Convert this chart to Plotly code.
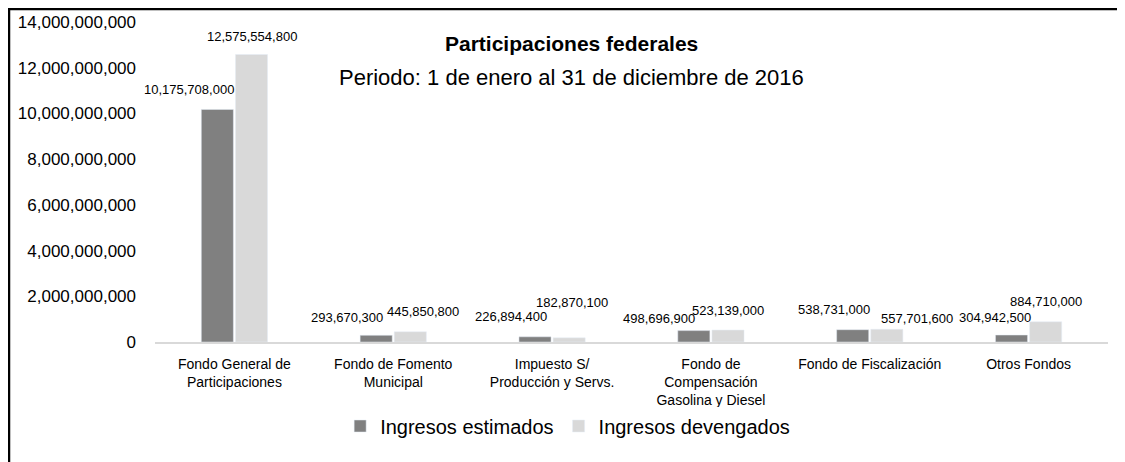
import plotly.graph_objects as go

categorias = ["Fondo General de<br>Participaciones", "Fondo de Fomento<br>Municipal",
              "Impuesto S/<br>Producción y Servs.", "Fondo de<br>Compensación<br>Gasolina y Diesel",
              "Fondo de Fiscalización", "Otros Fondos"]
estimados = [10175708000, 293670300, 226894400, 498696900, 538731000, 304942500]
devengados = [12575554800, 445850800, 182870100, 523139000, 557701600, 884710000]
y_ticks = [0, 2000000000, 4000000000, 6000000000, 8000000000, 10000000000, 12000000000, 14000000000]

# desplazamiento (px) de las etiquetas, como en el original
shift_est = [(-45, 20), (-46, 18), (-41, 20), (-52, 12), (-36, 20), (-34, 18)]
shift_dev = [(18, 18), (30, 20), (20, 35), (17, 20), (47, 11), (17, 20)]

FONT = "Liberation Sans, Arial"
OSCURO = "#808080"
CLARO = "#d9d9d9"

fig = go.Figure()
fig.add_trace(go.Bar(name="Ingresos estimados", x=categorias, y=estimados, marker_color=OSCURO))
fig.add_trace(go.Bar(name="Ingresos devengados", x=categorias, y=devengados, marker_color=CLARO))

for i, cat in enumerate(categorias):
    fig.add_annotation(x=cat, y=estimados[i], text=f"{estimados[i]:,}", showarrow=False,
                       xshift=shift_est[i][0], yshift=shift_est[i][1], yanchor="middle",
                       font=dict(size=13, color="#000", family=FONT))
    fig.add_annotation(x=cat, y=devengados[i], text=f"{devengados[i]:,}", showarrow=False,
                       xshift=shift_dev[i][0], yshift=shift_dev[i][1], yanchor="middle",
                       font=dict(size=13, color="#000", family=FONT))

fig.add_annotation(x=0.437, y=1.0 - (43 - 22) / 320, xref="paper", yref="paper", yanchor="middle",
                   text="<b>Participaciones federales</b>", showarrow=False,
                   font=dict(size=21, color="#000", family=FONT))
fig.add_annotation(x=0.437, y=1.0 - (77 - 22) / 320, xref="paper", yref="paper", yanchor="middle",
                   text="Periodo: 1 de enero al 31 de diciembre de 2016", showarrow=False,
                   font=dict(size=22, color="#000", family=FONT))

# marco
fig.add_shape(type="line", xref="paper", yref="paper", x0=-0.1532, x1=-0.1532, y0=1.041, y1=-0.4,
              line=dict(color="#000", width=2.5))
fig.add_shape(type="line", xref="paper", yref="paper", x0=-0.1545, x1=1.0126, y0=1.041, y1=1.041,
              line=dict(color="#000", width=2.5))

fig.update_layout(
    width=1117, height=454,
    margin=dict(l=147, r=17, t=14, b=120, autoexpand=False),
    paper_bgcolor="white", plot_bgcolor="white",
    barmode="group", bargap=0.57, bargroupgap=0.06,
    font=dict(family=FONT, color="#000"),
    showlegend=True,
    legend=dict(orientation="h", x=0.433, xanchor="center", y=-0.2625, yanchor="middle",
                font=dict(size=20, family=FONT), itemclick=False),
)
fig.update_xaxes(range=[-0.5, len(categorias) - 0.5], showline=True, linecolor=CLARO, linewidth=2,
                 tickfont=dict(size=14), ticks="", showgrid=False, tickangle=0, automargin=False,
                 ticklabelstandoff=8)
fig.update_yaxes(range=[0, 14000000000], tickvals=y_ticks, tickformat=",d", showgrid=False,
                 zeroline=False, tickfont=dict(size=17), ticklabelstandoff=18, automargin=False)

fig.write_html("out.html")
